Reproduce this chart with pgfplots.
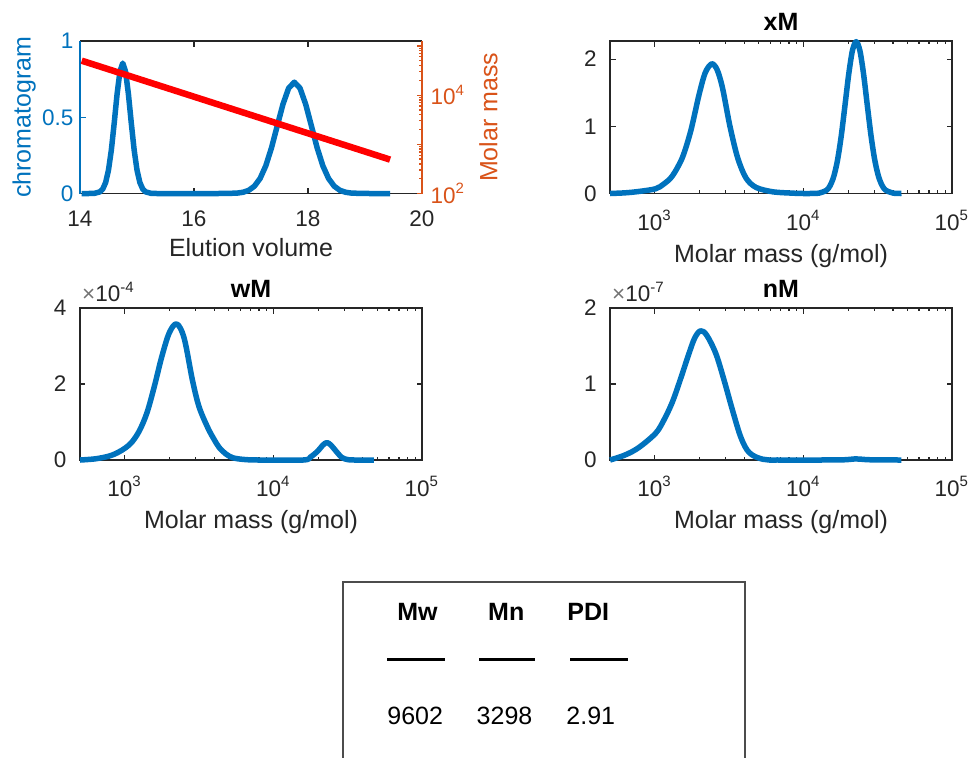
\documentclass[border=0pt]{standalone}
\usepackage{fontspec}
\setmainfont{Liberation Sans}
\usepackage{pgfplots}
\pgfplotsset{compat=1.18}

\definecolor{mblue}{RGB}{0,114,189}
\definecolor{morange}{RGB}{217,83,25}
\definecolor{mred}{RGB}{255,0,0}
\definecolor{mgray}{RGB}{38,38,38}

\newcommand{\tickfont}{\fontsize{9}{10}\selectfont}
\newcommand{\labfont}{\fontsize{10}{12}\selectfont}

\tikzset{
  lab/.style={anchor=base, inner sep=0pt, font=\tickfont, text=mgray},
  ttl/.style={anchor=base, inner sep=0pt, font=\bfseries\labfont, text=black, yshift=4.4pt},
}

\pgfplotsset{
  mstyle/.style={
    scale only axis,
    width=136.8pt,
    clip=false,
    axis line style={draw=mgray, line width=0.5pt},
    tick style={draw=mgray, line width=0.5pt},
    major tick length=2.2pt,
    minor tick length=1.3pt,
    tick label style={font=\tickfont, text=mgray, inner sep=0pt},
    label style={font=\labfont, text=mgray},
    /pgf/number format/assume math mode=true,
    scaled y ticks=false,
    xticklabels={},
    every axis plot/.append style={line width=2.2pt, line join=round},
  },
  mmass/.style={
    xmin=500, xmax=100000,
    xtick={1000,10000,100000},
    yticklabel style={anchor=east, xshift=-5.2pt},
    xlabel={Molar mass (g/mol)},
    xlabel style={at={(axis description cs:0.5,0)}, anchor=base, yshift=-27.4pt},
  },
}

\begin{document}
\begin{tikzpicture}
\useasboundingbox (0,0) rectangle (387.6pt,-302.8pt);

% chromatogram (left y axis)
\begin{axis}[mstyle,
  at={(32pt,-77.4pt)}, anchor=south west, height=61pt,
  xmin=14, xmax=20, ymin=0, ymax=1,
  axis y line*=left,
  xtick={14,16,18,20},
  ytick={0,0.5,1},
  y axis line style={draw=mblue},
  ytick style={draw=mblue},
  yticklabel style={text=mblue, anchor=east, xshift=-2.4pt},
  xlabel={Elution volume},
  xlabel style={at={(axis description cs:0.5,0)}, anchor=base, yshift=-25.3pt},
  ylabel={chromatogram},
  ylabel style={text=mblue, at={(axis description cs:-0.163,0.5)}, anchor=center},
]
\addplot[mblue] coordinates {
  (14.03,0) (14.15,0) (14.25,0.0009) (14.35,0.0106) (14.40,0.0297)
  (14.45,0.0724) (14.50,0.1539) (14.55,0.2853) (14.60,0.4612) (14.65,0.6499)
  (14.70,0.7983) (14.75,0.855) (14.80,0.7983) (14.85,0.6499) (14.90,0.4612)
  (14.95,0.2853) (15.00,0.1539) (15.05,0.0724) (15.10,0.0297) (15.15,0.0106)
  (15.25,0.0009) (15.35,0) (16.40,0) (16.56,0.0002) (16.76,0.0028)
  (16.86,0.0081) (16.96,0.0209) (17.06,0.048) (17.16,0.0988) (17.26,0.1821)
  (17.36,0.3001) (17.46,0.4428) (17.56,0.5845) (17.66,0.6906) (17.76,0.73)
  (17.86,0.6906) (17.96,0.5845) (18.06,0.4428) (18.16,0.3001) (18.26,0.1821)
  (18.36,0.0988) (18.46,0.048) (18.56,0.0209) (18.66,0.0081) (18.76,0.0028)
  (18.96,0.0002) (19.10,0) (19.44,0)
};
\node[lab, yshift=-13pt] at (axis cs:14,0) {14};
\node[lab, yshift=-13pt] at (axis cs:16,0) {16};
\node[lab, yshift=-13pt] at (axis cs:18,0) {18};
\node[lab, yshift=-13pt] at (axis cs:20,0) {20};
\end{axis}

% molar mass calibration (right y axis)
\begin{axis}[mstyle,
  at={(32pt,-77.4pt)}, anchor=south west, height=61pt,
  xmin=14, xmax=20,
  ymode=log, ymin=100, ymax=126000,
  axis x line=none,
  axis y line*=right,
  ytick={100,1000,10000,100000},
  yticklabels={10\textsuperscript{2},,10\textsuperscript{4},},
  y axis line style={draw=morange},
  ytick style={draw=morange},
  yticklabel style={text=morange, anchor=west, xshift=3.2pt},
  ylabel={Molar mass},
  ylabel style={text=morange, at={(axis description cs:1.194,0.5)}, anchor=center},
]
\addplot[mred, line width=2.6pt] coordinates {
  (14.03,50119) (15,21878) (16,9290) (17,3945) (18,1675) (19,712.9) (19.44,488.7)
};
\end{axis}

% xM
\begin{axis}[xmode=log, mstyle, mmass,
  at={(244pt,-77.4pt)}, anchor=south west, height=61pt,
  ymin=0, ymax=2.27, ytick={0,1,2},
]
\addplot[mblue, smooth, tension=0.5] coordinates {
  (500,0) (631.0,0.01) (779.8,0.03) (1011.6,0.07) (1148.2,0.14) (1312.2,0.26)
  (1531.1,0.53) (1745.8,0.93) (1986.1,1.47) (2187.8,1.80) (2421.0,1.93)
  (2630.3,1.84) (2857.6,1.57) (3206.3,1.00) (3614.1,0.53) (4111.5,0.23)
  (4808.4,0.09) (6237.3,0.025) (8511.4,0.005) (10000,0) (11350,0.0004)
  (12735,0.0054) (14289,0.0477) (15136,0.1178) (16032,0.258) (16982,0.5006)
  (17989,0.8615) (19055,1.314) (20184,1.776) (21380,2.128) (22646,2.26)
  (23988,2.128) (25410,1.776) (26915,1.314) (28510,0.8615) (30200,0.5006)
  (31989,0.258) (33884,0.1178) (35892,0.0477) (40272,0.0054) (45709,0.0002)
};
\node[lab, yshift=-14.6pt] at (axis cs:1000,0) {10\textsuperscript{3}};
\node[lab, yshift=-14.6pt] at (axis cs:10000,0) {10\textsuperscript{4}};
\node[lab, yshift=-14.6pt] at (axis cs:100000,0) {10\textsuperscript{5}};
\node[ttl] at (rel axis cs:0.5,1) {xM};
\end{axis}

% wM
\begin{axis}[xmode=log, mstyle, mmass,
  at={(32pt,-184pt)}, anchor=south west, height=60.8pt,
  ymin=0, ymax=0.0004, ytick={0,0.0002,0.0004}, yticklabels={0,2,4},
]
\addplot[mblue, smooth, tension=0.55] coordinates {
  (500,0) (631.0,0.03e-4) (779.8,0.10e-4) (891.3,0.19e-4) (1011.6,0.32e-4)
  (1122.0,0.48e-4) (1258.9,0.78e-4) (1412.5,1.25e-4) (1584.9,1.95e-4)
  (1778.3,2.73e-4) (1995.3,3.35e-4) (2238.7,3.58e-4) (2511.9,3.20e-4)
  (2857.6,2.09e-4) (3162.3,1.40e-4) (3614.1,0.856e-4) (3981.1,0.55e-4)
  (4325.1,0.326e-4) (4786.3,0.16e-4) (5333.4,0.06e-4) (6309.6,0.015e-4)
  (7943.3,0) (15849,0) (17783,0.08e-4) (19953,0.24e-4) (21380,0.38e-4)
  (22909,0.46e-4) (24547,0.38e-4) (26303,0.24e-4) (28840,0.07e-4)
  (31623,0.01e-4) (35481,0) (47424,0)
};
\node[lab, yshift=-14.4pt] at (axis cs:1000,0) {10\textsuperscript{3}};
\node[lab, yshift=-14.4pt] at (axis cs:10000,0) {10\textsuperscript{4}};
\node[lab, yshift=-14.4pt] at (axis cs:100000,0) {10\textsuperscript{5}};
\node[ttl] at (rel axis cs:0.5,1) {wM};
\node[anchor=base west, inner sep=0pt, font=\tickfont, text=mgray, yshift=2.5pt]
  at (rel axis cs:0.005,1) {{\color{black!55}×}10\textsuperscript{-4}};
\end{axis}

% nM
\begin{axis}[xmode=log, mstyle, mmass,
  at={(244pt,-184pt)}, anchor=south west, height=60.8pt,
  ymin=0, ymax=2e-7, ytick={0,1e-7,2e-7}, yticklabels={0,1,2},
]
\addplot[mblue, smooth, tension=0.55] coordinates {
  (500,0) (631.0,0.066e-7) (779.8,0.163e-7) (1011.6,0.35e-7) (1148.2,0.52e-7)
  (1312.2,0.76e-7) (1492.8,1.07e-7) (1698.2,1.40e-7) (1862.1,1.61e-7)
  (2037.0,1.70e-7) (2238.7,1.64e-7) (2576.3,1.40e-7) (2931.0,1.046e-7)
  (3341.9,0.649e-7) (3801.9,0.295e-7) (4325.1,0.097e-7) (5333.4,0.01e-7)
  (7079.5,0) (17783,0.002e-7) (22387,0.015e-7) (28184,0.003e-7) (45709,0)
};
\node[lab, yshift=-14.4pt] at (axis cs:1000,0) {10\textsuperscript{3}};
\node[lab, yshift=-14.4pt] at (axis cs:10000,0) {10\textsuperscript{4}};
\node[lab, yshift=-14.4pt] at (axis cs:100000,0) {10\textsuperscript{5}};
\node[ttl] at (rel axis cs:0.5,1) {nM};
\node[anchor=base west, inner sep=0pt, font=\tickfont, text=mgray, yshift=2.5pt]
  at (rel axis cs:0.005,1) {{\color{black!55}×}10\textsuperscript{-7}};
\end{axis}

% results box
\draw[black!70, line width=0.7pt] (137.2pt,-312pt) -- (137.2pt,-232.8pt) -- (298pt,-232.8pt) -- (298pt,-312pt);
\begin{scope}[every node/.style={inner sep=0pt, anchor=base, font=\labfont}]
  \node[font=\bfseries\labfont] at (167pt,-248.3pt) {Mw};
  \node[font=\bfseries\labfont] at (202.5pt,-248.3pt) {Mn};
  \node[font=\bfseries\labfont] at (235.3pt,-248.3pt) {PDI};
  \node at (166.1pt,-289.6pt) {9602};
  \node at (201.8pt,-289.6pt) {3298};
  \node at (236.3pt,-289.6pt) {2.91};
\end{scope}
\draw[black, line width=1pt] (154.9pt,-263.7pt) -- (178pt,-263.7pt);
\draw[black, line width=1pt] (191.6pt,-263.7pt) -- (214pt,-263.7pt);
\draw[black, line width=1pt] (228pt,-263.7pt) -- (251.1pt,-263.7pt);
\end{tikzpicture}
\end{document}
